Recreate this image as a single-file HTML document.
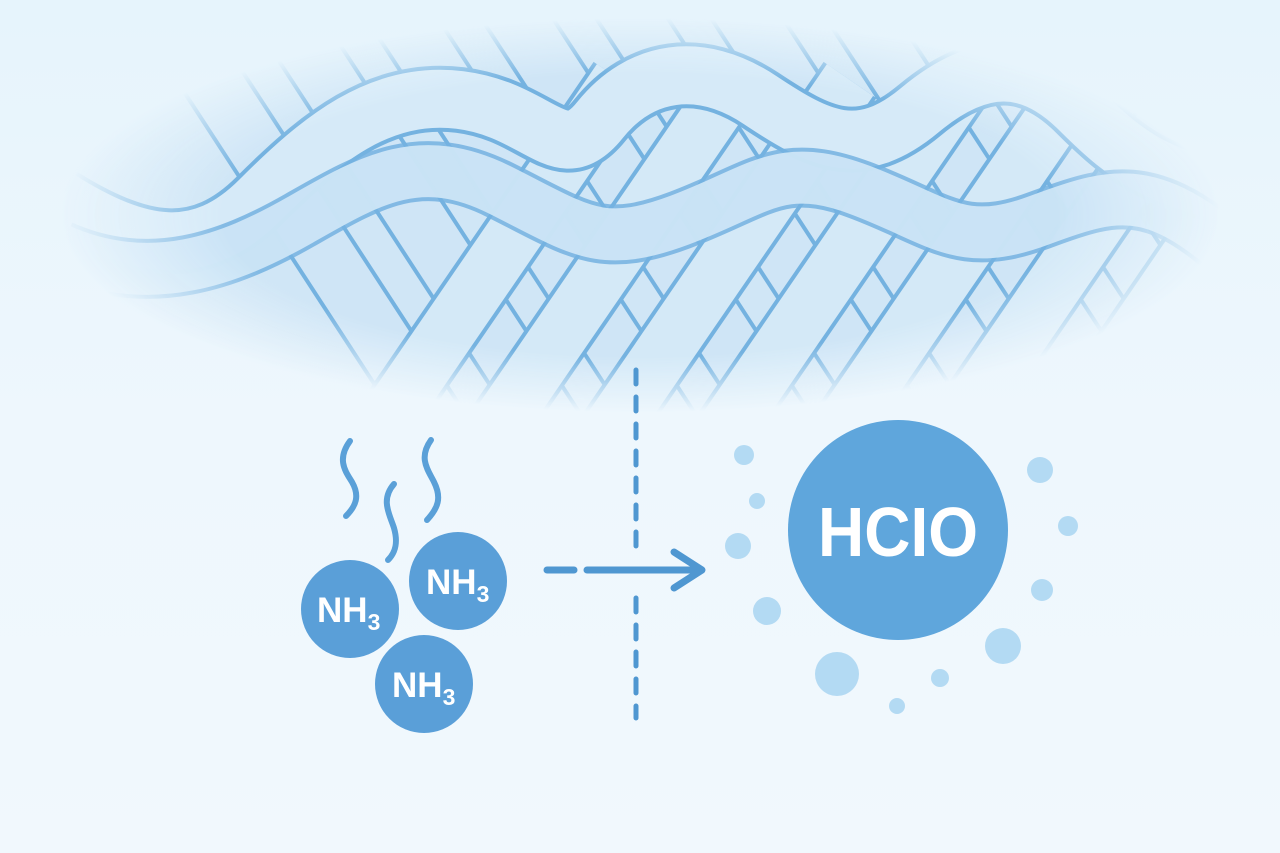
<!DOCTYPE html>
<html><head><meta charset="utf-8"><style>
html,body{margin:0;padding:0;}
body{width:1280px;height:853px;overflow:hidden;background:linear-gradient(180deg,#e6f4fc 0%,#eef7fd 50%,#f1f8fd 100%);}
svg{display:block}
</style></head><body>
<svg width="1280" height="853" viewBox="0 0 1280 853" xmlns="http://www.w3.org/2000/svg">
<defs>
<radialGradient id="fade" cx="640" cy="215" r="580" gradientUnits="userSpaceOnUse" gradientTransform="translate(640 215) scale(1 0.34) translate(-640 -215)">
<stop offset="0" stop-color="#fff" stop-opacity="1"/>
<stop offset="0.72" stop-color="#fff" stop-opacity="1"/>
<stop offset="1" stop-color="#fff" stop-opacity="0"/>
</radialGradient>
<mask id="m"><rect x="0" y="0" width="1280" height="420" fill="url(#fade)"/></mask>
</defs>
<g mask="url(#m)" fill="none" stroke-linecap="butt">
  <rect x="0" y="0" width="1280" height="420" fill="#b9d9f0" opacity="0.55"/>
  <!-- down-right diagonals -->
  <g stroke="#74b2e0" stroke-width="64">
    <path d="M160 0 L440 430"/><path d="M275 0 L555 430"/><path d="M390 0 L670 430"/><path d="M505 0 L785 430"/><path d="M620 0 L900 430"/><path d="M735 0 L1015 430"/><path d="M850 0 L1130 430"/><path d="M965 0 L1245 430"/>
  </g>
  <g stroke="#cfe5f6" stroke-width="56">
    <path d="M160 0 L440 430"/><path d="M275 0 L555 430"/><path d="M390 0 L670 430"/><path d="M505 0 L785 430"/><path d="M620 0 L900 430"/><path d="M735 0 L1015 430"/><path d="M850 0 L1130 430"/><path d="M965 0 L1245 430"/>
  </g>
  <!-- down-left diagonals -->
  <g stroke="#74b2e0" stroke-width="64">
    <path d="M620 80 L380 430"/><path d="M735 80 L495 430"/><path d="M850 80 L610 430"/><path d="M965 80 L725 430"/><path d="M1080 80 L840 430"/><path d="M1195 80 L955 430"/><path d="M1310 80 L1070 430"/>
  </g>
  <g stroke="#d4e9f7" stroke-width="56">
    <path d="M620 80 L380 430"/><path d="M735 80 L495 430"/><path d="M850 80 L610 430"/><path d="M965 80 L725 430"/><path d="M1080 80 L840 430"/><path d="M1195 80 L955 430"/><path d="M1310 80 L1070 430"/>
  </g>
  <!-- top wavy strands -->
  <path d="M60 200 C140 250 200 260 260 200 S380 90 460 100 S560 170 600 120 S700 60 760 100 S860 160 920 110 S1030 60 1080 110 S1160 180 1260 200" stroke="#74b2e0" stroke-width="66"/>
  <path d="M60 200 C140 250 200 260 260 200 S380 90 460 100 S560 170 600 120 S700 60 760 100 S860 160 920 110 S1030 60 1080 110 S1160 180 1260 200" stroke="#d6eaf8" stroke-width="58"/>
  <path d="M60 250 C150 290 230 260 300 220 S420 150 500 190 S600 250 680 220 S780 160 860 190 S960 250 1040 220 S1160 180 1260 280" stroke="#74b2e0" stroke-width="60" opacity="0.85"/>
  <path d="M60 250 C150 290 230 260 300 220 S420 150 500 190 S600 250 680 220 S780 160 860 190 S960 250 1040 220 S1160 180 1260 280" stroke="#d2e8f7" stroke-width="52" opacity="0.9"/>
</g>
<!-- dashed vertical -->
<g stroke="#4f97d1" stroke-width="5" stroke-linecap="round">
  <path d="M636 370 L636 547" stroke-dasharray="14 13"/>
  <path d="M636 598 L636 718" stroke-dasharray="14 13"/>
</g>
<g stroke="#4f97d1" stroke-width="7" stroke-linecap="round" fill="none" stroke-linejoin="round">
  <path d="M547 570 L574 570"/>
  <path d="M587 570 L700 570"/>
  <path d="M674 552 L702 570 L674 588"/>
</g>
<!-- squiggles -->
<g fill="none" stroke="#5aa0d8" stroke-width="6" stroke-linecap="round">
  <path d="M350 441 C336 460 346 472 352 482 C360 496 356 506 346 516"/>
  <path d="M394 484 C380 500 390 515 394 528 C398 542 396 552 388 560"/>
  <path d="M431 440 C418 458 428 470 434 482 C442 498 438 508 427 520"/>
</g>
<!-- NH3 circles -->
<g fill="#5a9fd8">
  <circle cx="350" cy="609" r="49"/>
  <circle cx="458" cy="581" r="49"/>
  <circle cx="424" cy="684" r="49"/>
</g>
<g fill="#fff" font-family="Liberation Sans, sans-serif" font-weight="bold" font-size="35">
  <text x="317" y="622">NH<tspan font-size="23" dy="8">3</tspan></text>
  <text x="426" y="594">NH<tspan font-size="23" dy="8">3</tspan></text>
  <text x="392" y="697">NH<tspan font-size="23" dy="8">3</tspan></text>
</g>
<!-- dots -->
<g fill="#b3daf3">
  <circle cx="744" cy="455" r="10"/><circle cx="757" cy="501" r="8"/><circle cx="738" cy="546" r="13"/>
  <circle cx="767" cy="611" r="14"/><circle cx="837" cy="674" r="22"/><circle cx="940" cy="678" r="9"/>
  <circle cx="897" cy="706" r="8"/><circle cx="1003" cy="646" r="18"/><circle cx="1042" cy="590" r="11"/>
  <circle cx="1068" cy="526" r="10"/><circle cx="1040" cy="470" r="13"/>
</g>
<circle cx="898" cy="530" r="110" fill="#5fa6dc"/>
<text x="898" y="556" text-anchor="middle" fill="#fff" font-family="Liberation Sans, sans-serif" font-weight="bold" font-size="70" textLength="160" lengthAdjust="spacingAndGlyphs">HCIO</text>
</svg>
</body></html>
